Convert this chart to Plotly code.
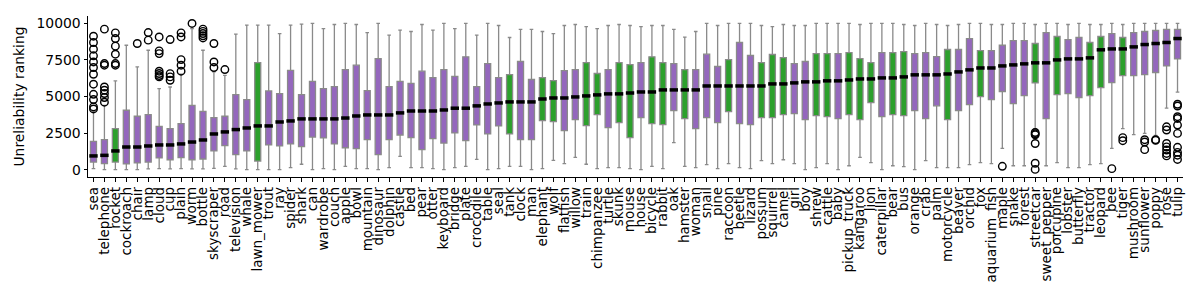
import plotly.graph_objects as go

names = ["sea", "telephone", "rocket", "cockroach", "chair", "lamp", "cloud", "cup", "plain", "worm",
         "bottle", "skyscraper", "road", "television", "whale", "lawn_mower", "trout", "ray", "spider", "shark",
         "can", "wardrobe", "couch", "apple", "bowl", "mountain", "dinosaur", "dolphin", "castle", "bed",
         "pear", "otter", "keyboard", "bridge", "plate", "crocodile", "table", "seal", "tank", "clock",
         "man", "elephant", "wolf", "flatfish", "willow", "train", "chimpanzee", "turtle", "skunk", "mouse",
         "house", "bicycle", "rabbit", "oak", "hamster", "woman", "snail", "pine", "raccoon", "beetle",
         "lizard", "possum", "squirrel", "camel", "girl", "boy", "shrew", "cattle", "baby", "pickup_truck",
         "kangaroo", "lion", "caterpillar", "bear", "bus", "orange", "crab", "palm", "motorcycle", "beaver",
         "orchid", "fox", "aquarium_fish", "maple", "snake", "forest", "streetcar", "sweet_pepper", "porcupine", "lobster",
         "butterfly", "tractor", "leopard", "bee", "tiger", "mushroom", "sunflower", "poppy", "rose", "tulip"]

lower = [70, 0, 0, 0, 0, 50, 70, 50, 70, 50,
         50, 90, 230, 50, 0, 0, 0, 0, 140, 370,
         0, 70, 0, 230, 70, 70, 0, 140, 910, 140,
         140, 70, 0, 140, 230, 710, 0, 70, 230, 230,
         0, 70, 640, 410, 840, 370, 70, 140, 140, 70,
         0, 230, 70, 1850, 230, 140, 340, 70, 410, 140,
         70, 620, 410, 680, 410, 0, 140, 410, 0, 270,
         840, 480, 0, 270, 210, 0, 620, 140, 140, 140,
         340, 480, 410, 1460, 270, 270, 2800, 270, 480, 140,
         140, 340, 410, 1460, 2800, 2390, 2480, 2350, 4200, 5300]

q1 = [520, 410, 520, 390, 460, 520, 800, 680, 820, 680,
      730, 1280, 1640, 1030, 1280, 590, 1690, 1620, 1760, 1570,
      2230, 2170, 1760, 1500, 1440, 2050, 1030, 2050, 2370, 2190,
      1370, 2120, 1820, 2510, 1980, 3060, 2440, 2990, 2440, 2050,
      2050, 3350, 3280, 2670, 3420, 3010, 3760, 2870, 3220, 2190,
      3560, 3150, 3080, 4040, 3490, 2800, 3560, 3220, 3970, 3150,
      3080, 3560, 3560, 3760, 3830, 3420, 3690, 3630, 3490, 3760,
      3420, 4580, 3630, 3760, 3690, 4040, 3490, 4360, 3420, 4040,
      4450, 4990, 4790, 5340, 4510, 5060, 5930, 3490, 5130, 5200,
      4930, 5060, 5610, 5950, 6430, 6430, 6500, 6640, 7090, 7570]

median = [940, 980, 1280, 1550, 1550, 1620, 1690, 1690, 1760, 1890,
          2030, 2440, 2580, 2740, 2850, 2990, 2990, 3260, 3330, 3470,
          3470, 3470, 3470, 3530, 3670, 3740, 3740, 3740, 3880, 4010,
          4010, 4010, 4080, 4200, 4200, 4360, 4490, 4560, 4630, 4630,
          4630, 4830, 4900, 4900, 4970, 5040, 5110, 5180, 5180, 5240,
          5310, 5310, 5450, 5450, 5450, 5450, 5720, 5720, 5720, 5720,
          5720, 5720, 5860, 5860, 5930, 6000, 6000, 6070, 6070, 6130,
          6200, 6200, 6270, 6270, 6340, 6480, 6480, 6480, 6540, 6680,
          6820, 6950, 6950, 7090, 7160, 7230, 7300, 7300, 7500, 7570,
          7570, 7640, 8190, 8250, 8250, 8390, 8550, 8620, 8690, 8960]

q3 = [1940, 2050, 2800, 4060, 3650, 3760, 2960, 2800, 3150, 4400,
      3990, 3560, 3650, 5130, 4790, 7320, 5380, 5200, 6790, 5130,
      6040, 5540, 5680, 6840, 7140, 5400, 7590, 5680, 6040, 5900,
      6730, 6290, 6840, 6380, 7710, 5680, 7250, 6290, 6500, 7390,
      6160, 6290, 6090, 6770, 6840, 7320, 6570, 6840, 7320, 7180,
      7320, 7710, 7320, 7250, 6840, 6840, 7890, 7050, 7520, 8690,
      7800, 7320, 7870, 7660, 7250, 7390, 7930, 7930, 7930, 8000,
      7590, 7320, 8000, 8000, 8070, 7930, 8000, 7730, 8210, 8210,
      8960, 8140, 8140, 8500, 8820, 8820, 8620, 9370, 9100, 8890,
      9030, 8690, 9100, 9300, 9030, 9370, 9440, 9510, 9580, 9580]

upper = [4000, 4400, 6070, 8500, 7020, 8160, 5540, 5650, 6520, 9640,
         8160, 6680, 6450, 9260, 9870, 9870, 9870, 9300, 9870, 9940,
         9990, 9640, 9920, 9990, 9920, 9370, 9990, 9190, 9530, 9440,
         9920, 9530, 9990, 9640, 9990, 9190, 9990, 9850, 9030, 9580,
         9580, 9440, 9300, 9850, 9920, 9780, 9640, 9850, 9920, 9850,
         9780, 9850, 9850, 9580, 9050, 9440, 9990, 9850, 9990, 9990,
         9990, 9850, 9780, 9920, 9850, 9850, 9990, 9990, 9990, 9990,
         9920, 9990, 9990, 9990, 9920, 9850, 9990, 9920, 9850, 9920,
         9990, 9990, 9920, 9920, 9990, 9990, 9920, 9990, 9990, 9920,
         9990, 9920, 9920, 9990, 9920, 9990, 9990, 9990, 9990, 9990]

highlighted = ["rocket", "lawn_mower", "tank", "elephant", "wolf", "train", "chimpanzee", "skunk", "mouse",
               "bicycle", "rabbit", "hamster", "raccoon", "possum", "squirrel", "camel", "shrew", "cattle",
               "pickup_truck", "kangaroo", "lion", "bear", "bus", "motorcycle", "fox", "streetcar",
               "porcupine", "tractor", "leopard", "tiger"]

outlier_names = (["sea"] * 12 + ["telephone"] * 8 + ["rocket"] * 6 + ["chair"] + ["lamp"] * 2
                 + ["cloud"] * 7 + ["cup"] * 4 + ["plain"] * 5 + ["worm"] + ["bottle"] * 5
                 + ["skyscraper"] * 3 + ["road"] + ["maple"] + ["streetcar"] * 6 + ["bee"]
                 + ["tiger"] * 2 + ["sunflower"] * 3 + ["poppy"] * 2 + ["rose"] * 7 + ["tulip"] * 10)
outlier_values = ([9120, 8690, 8230, 7780, 7360, 6980, 6520, 5840, 5150, 4790, 4290, 4150]
                  + [9600, 7250, 7140, 5650, 5430, 5200, 4930, 4610]
                  + [9350, 8960, 8440, 7890, 7250, 7140]
                  + [8620] + [9370, 8850]
                  + [9070, 8120, 7930, 6730, 6570, 6430, 6340]
                  + [8890, 6560, 6340, 6110]
                  + [9350, 9070, 7520, 7140, 6730]
                  + [9990] + [9600, 9450, 9300, 9150, 9000]
                  + [8620, 7360, 6980] + [6840] + [230]
                  + [2540, 2450, 2380, 1790, 440, 20] + [70]
                  + [2190, 1980] + [2050, 1890, 1370] + [2050, 2000]
                  + [2930, 2710, 1790, 1560, 1340, 1110, 940]
                  + [4470, 4350, 3620, 3500, 3050, 2480, 1530, 1180, 990, 700])

PURPLE = "#9467bd"
GREEN = "#2ca02c"
EDGE = "#8a8a8a"
FONT = "DejaVu Sans"

fig = go.Figure()
for is_hl, color in [(False, PURPLE), (True, GREEN)]:
    idx = [i for i, n in enumerate(names) if (n in highlighted) == is_hl]
    fig.add_trace(go.Box(
        x=[names[i] for i in idx],
        q1=[q1[i] for i in idx],
        median=[median[i] for i in idx],
        q3=[q3[i] for i in idx],
        lowerfence=[lower[i] for i in idx],
        upperfence=[upper[i] for i in idx],
        boxpoints=False,
        width=0.55,
        whiskerwidth=0.6,
        fillcolor=color,
        line=dict(color=EDGE, width=1.3),
        hoverinfo="skip",
        showlegend=False,
    ))

fig.add_trace(go.Scatter(
    x=names, y=median, mode="markers",
    marker=dict(symbol="line-ew", size=6, line=dict(color="black", width=3.5)),
    hoverinfo="skip", showlegend=False,
))

fig.add_trace(go.Scatter(
    x=outlier_names, y=outlier_values, mode="markers",
    marker=dict(symbol="circle-open", size=7.5, color="black", line=dict(color="black", width=1.4)),
    hoverinfo="skip", showlegend=False,
))

# page body has an 8px default margin; compensate so the chart lands where the reference is
fig.update_layout(
    width=1192, height=292,
    margin=dict(l=80, r=17, t=8, b=123),
    paper_bgcolor="white", plot_bgcolor="white",
    boxmode="overlay",
    font=dict(family=FONT, size=13.9, color="black"),
    showlegend=False,
)
fig.update_xaxes(
    type="category", categoryorder="array", categoryarray=names,
    tickmode="array", tickvals=names, ticktext=names,
    range=[-0.5, 99.5], showline=True, linecolor="black", linewidth=1,
    ticks="outside", ticklen=3.5, tickwidth=1, tickcolor="black",
    tickangle=-90, tickfont=dict(family=FONT, size=13.5, color="black"),
    showgrid=False, zeroline=False, automargin=False,
)
fig.update_yaxes(
    range=[-500, 10500], tickvals=[0, 2500, 5000, 7500, 10000], tickformat="d",
    showline=True, linecolor="black", linewidth=1,
    ticks="outside", ticklen=3.5, tickwidth=1, tickcolor="black",
    tickfont=dict(family=FONT, size=13.9, color="black"),
    title=dict(text="Unreliability ranking", font=dict(family=FONT, size=13.9, color="black"), standoff=8),
    showgrid=False, zeroline=False, automargin=False,
)

fig.write_html("out.html")
